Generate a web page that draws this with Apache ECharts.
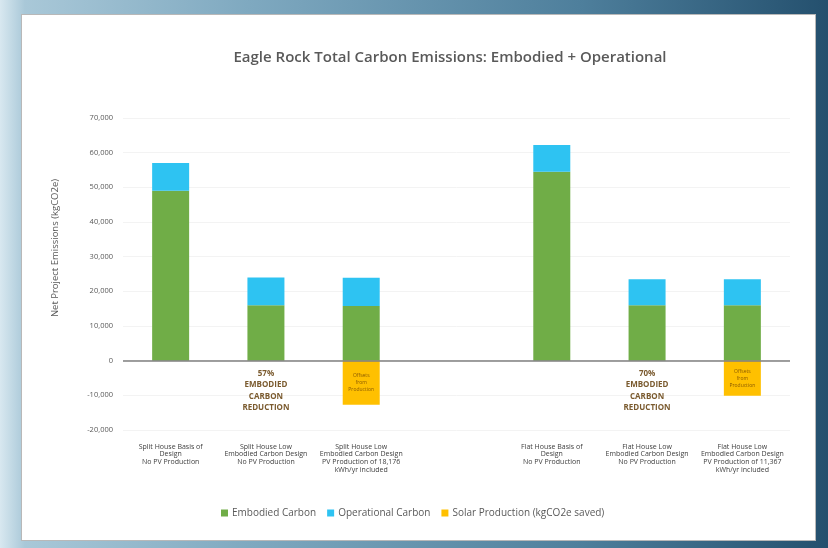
<!DOCTYPE html>
<html>
<head>
<meta charset="utf-8">
<script src="https://cdn.jsdelivr.net/npm/echarts@6/dist/echarts.min.js"></script>
<style>
  html, body { margin: 0; padding: 0; width: 828px; height: 548px; overflow: hidden; }
  body {
    background: linear-gradient(90deg, #d8e8f0 0%, #a9c8d8 3%, #7fa9c0 30%, #4e7f9c 70%, #24506e 100%);
    position: relative;
  }
  #card {
    position: absolute; left: 21px; top: 14px; width: 793px; height: 525px;
    background: #ffffff; border: 1px solid #b8b8b8;
  }
  #chart { position: absolute; left: 0; top: 0; width: 828px; height: 548px; }
</style>
</head>
<body>
<div id="card"></div>
<div id="chart"></div>
<script>
// Scenario labels (the blank slot separates the Split and Flat house groups)
const categories = [
  'Split House Basis of\nDesign\nNo PV Production',
  'Split House Low\nEmbodied Carbon Design\nNo PV Production',
  'Split House Low\nEmbodied Carbon Design\nPV Production of 18,176\nkWh/yr included',
  '',
  'Flat House Basis of\nDesign\nNo PV Production',
  'Flat House Low\nEmbodied Carbon Design\nNo PV Production',
  'Flat House Low\nEmbodied Carbon Design\nPV Production of 11,367\nkWh/yr included'
];

// Emissions in kgCO2e
const embodiedCarbon    = [49000, 16000, 15800, '-', 54500, 16000, 16000];
const operationalCarbon = [8000, 8000, 8100, '-', 7700, 7500, 7500];
const solarProduction   = ['-', '-', -12700, '-', '-', '-', -10100];

// Value-axis range and step
const yMin = -20000, yMax = 70000, yStep = 10000;

// Reduction call-outs under the low embodied carbon bars
const reductionNotes = [
  { category: categories[1], text: '57%\nEMBODIED\nCARBON\nREDUCTION' },
  { category: categories[5], text: '70%\nEMBODIED\nCARBON\nREDUCTION' }
];
const solarNote = 'Offsets\nfrom\nProduction';

const FONT = 'Open Sans';
const chart = echarts.init(document.getElementById('chart'), null, { renderer: 'canvas' });

chart.setOption({
  backgroundColor: 'transparent',
  animation: false,
  textStyle: { fontFamily: FONT },
  title: {
    text: 'Eagle Rock Total Carbon Emissions: Embodied + Operational',
    left: 445, top: 45, textAlign: 'center',
    textStyle: { fontFamily: FONT, fontSize: 15, fontWeight: 600, color: '#595959' }
  },
  legend: {
    left: 216, top: 503,
    itemWidth: 7, itemHeight: 7, itemGap: 11,
    icon: 'rect',
    textStyle: { fontFamily: FONT, fontSize: 10, color: '#595959', padding: [0, 0, 0, -1] },
    data: ['Embodied Carbon', 'Operational Carbon', 'Solar Production (kgCO2e saved)']
  },
  grid: { left: 123, right: 38, top: 118, bottom: 118, containLabel: false },
  xAxis: {
    type: 'category',
    data: categories,
    axisLine: { show: false, onZero: false },
    axisTick: { show: false },
    axisLabel: {
      interval: 0, margin: 13, fontSize: 7, lineHeight: 7.6,
      color: '#404040', fontFamily: FONT
    }
  },
  yAxis: {
    type: 'value',
    min: yMin, max: yMax, interval: yStep,
    axisLine: { show: false },
    axisTick: { show: false },
    splitLine: { show: true, lineStyle: { color: '#f3f3f3', width: 1 } },
    axisLabel: {
      margin: 10, fontSize: 7.5, color: '#595959', fontFamily: FONT,
      formatter: v => v.toLocaleString('en-US')
    }
  },
  graphic: [{
    type: 'text',
    x: 55, y: 248, rotation: Math.PI / 2,
    style: {
      text: 'Net Project Emissions (kgCO2e)',
      fontFamily: FONT, fontSize: 9.5, fill: '#595959',
      align: 'center', verticalAlign: 'middle'
    }
  }],
  series: [
    {
      name: 'Embodied Carbon', type: 'bar', stack: 'total', barWidth: 37,
      itemStyle: { color: '#70ad47' },
      data: embodiedCarbon,
      markLine: {
        silent: true, symbol: 'none', label: { show: false },
        lineStyle: { color: '#7f7f7f', width: 1.5, type: 'solid' },
        data: [{ yAxis: 0 }]
      },
      markPoint: {
        symbolSize: 0,
        label: {
          show: true, position: 'bottom', distance: 7,
          fontFamily: FONT, fontSize: 8, fontWeight: 'bold', lineHeight: 11.5,
          color: '#7a5a2e', align: 'center'
        },
        data: reductionNotes.map(n => ({
          coord: [n.category, 0], value: n.text,
          label: { formatter: n.text }
        }))
      }
    },
    {
      name: 'Operational Carbon', type: 'bar', stack: 'total', barWidth: 37,
      itemStyle: { color: '#2ec3f2' },
      data: operationalCarbon
    },
    {
      name: 'Solar Production (kgCO2e saved)', type: 'bar', stack: 'total', barWidth: 37,
      itemStyle: { color: '#ffc000' },
      data: solarProduction,
      label: {
        show: true, position: 'inside', formatter: solarNote,
        fontFamily: FONT, fontSize: 5, lineHeight: 7, color: '#8a5a00'
      }
    }
  ]
});
</script>
</body>
</html>
